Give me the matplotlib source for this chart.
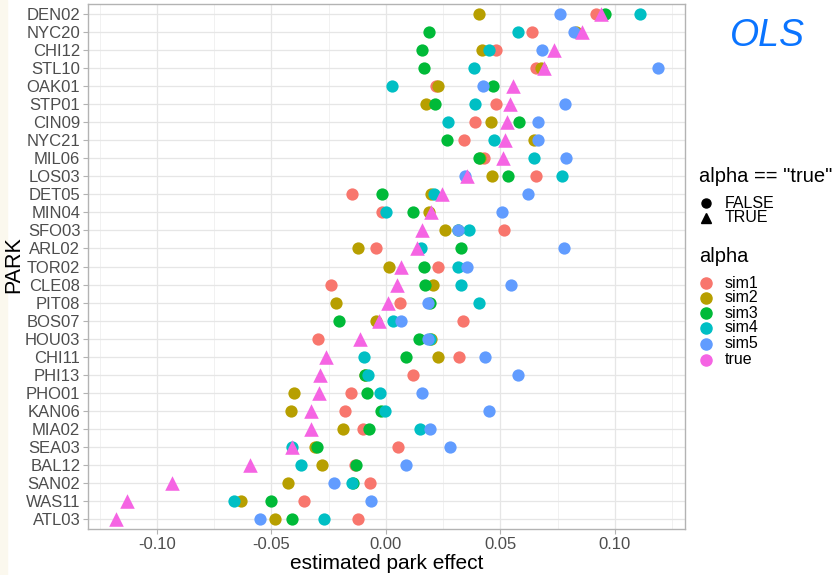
import matplotlib
matplotlib.use("Agg")
import matplotlib.pyplot as plt
from matplotlib.patches import Rectangle

plt.rcParams['font.family'] = ['Liberation Sans', 'DejaVu Sans']

# parks, top to bottom (sorted by true effect)
parks = ["DEN02", "NYC20", "CHI12", "STL10", "OAK01", "STP01", "CIN09", "NYC21",
         "MIL06", "LOS03", "DET05", "MIN04", "SFO03", "ARL02", "TOR02", "CLE08",
         "PIT08", "BOS07", "HOU03", "CHI11", "PHI13", "PHO01", "KAN06", "MIA02",
         "SEA03", "BAL12", "SAN02", "WAS11", "ATL03"]

sim1 = [0.0916, 0.0640, 0.0482, 0.0655, 0.0218, 0.0482, 0.0390, 0.0342,
        0.0427, 0.0655, -0.0150, -0.0015, 0.0517, -0.0044, 0.0226, -0.0242,
        0.0061, 0.0335, -0.0298, 0.0320, 0.0119, -0.0154, -0.0179, -0.0099,
        0.0054, -0.0135, -0.0070, -0.0358, -0.0121]
sim2 = [0.0406, 0.0830, 0.0419, 0.0677, 0.0228, 0.0175, 0.0459, 0.0646,
        0.0410, 0.0463, 0.0195, 0.0188, 0.0256, -0.0121, 0.0013, 0.0207,
        -0.0220, -0.0045, 0.0195, 0.0226, -0.0090, -0.0403, -0.0415, -0.0186,
        -0.0310, -0.0281, -0.0428, -0.0633, -0.0485]
sim3 = [0.0956, 0.0188, 0.0157, 0.0166, 0.0469, 0.0214, 0.0579, 0.0265,
        0.0406, 0.0533, -0.0015, 0.0119, 0.0316, 0.0328, 0.0167, 0.0170,
        0.0192, -0.0205, 0.0144, 0.0087, -0.0092, -0.0082, -0.0022, -0.0074,
        -0.0300, -0.0131, -0.0143, -0.0504, -0.0412]
sim4 = [0.1110, 0.0578, 0.0451, 0.0386, 0.0028, 0.0389, 0.0269, 0.0472,
        0.0645, 0.0767, 0.0210, 0.0000, 0.0362, 0.0153, 0.0314, 0.0328,
        0.0408, 0.0029, 0.0192, -0.0095, -0.0077, -0.0026, -0.0004, 0.0150,
        -0.0409, -0.0371, -0.0150, -0.0662, -0.0271]
sim5 = [0.0760, 0.0820, 0.0680, 0.1188, 0.0425, 0.0783, 0.0665, 0.0664,
        0.0787, 0.0345, 0.0622, 0.0505, 0.0316, 0.0776, 0.0355, 0.0546,
        0.0185, 0.0064, 0.0185, 0.0434, 0.0576, 0.0159, 0.0448, 0.0192,
        0.0281, 0.0087, -0.0227, -0.0066, -0.0550]
true = [0.0940, 0.0855, 0.0735, 0.0690, 0.0553, 0.0541, 0.0530, 0.0520,
        0.0512, 0.0355, 0.0247, 0.0197, 0.0159, 0.0134, 0.0068, 0.0049,
        0.0007, -0.0029, -0.0114, -0.0262, -0.0288, -0.0291, -0.0328, -0.0329,
        -0.0409, -0.0593, -0.0934, -0.1132, -0.1180]

series = [("sim1", sim1, "#F8766D"), ("sim2", sim2, "#B79F00"),
          ("sim3", sim3, "#00BA38"), ("sim4", sim4, "#00BFC4"),
          ("sim5", sim5, "#619CFF"), ("true", true, "#F564E3")]

W, H = 838, 575
fig = plt.figure(figsize=(W / 100, H / 100), dpi=100)
fig.patch.set_facecolor("white")

# cream strip at left edge of the screenshot
fig.add_artist(Rectangle((0, 0), 7 / W, 1, transform=fig.transFigure,
                         color="#FBF8EE", zorder=-1))

L, R, T, B = 88, 685, 4, 529
ax = fig.add_axes([L / W, 1 - B / H, (R - L) / W, (B - T) / H])

n = len(parks)
ypos = list(range(n, 0, -1))

for name, vals, col in series:
    if name == "true":
        ax.scatter(vals, ypos, marker="^", s=110, color=col, linewidths=0, zorder=3)
    else:
        ax.scatter(vals, ypos, marker="o", s=78, color=col, linewidths=0, zorder=3)

ax.set_xlim(-0.1301, 0.1306)
ax.set_ylim(0.45, n + 0.55)
ax.set_yticks(ypos)
ax.set_yticklabels(parks)
ax.set_xticks([-0.10, -0.05, 0.0, 0.05, 0.10])
ax.set_xticklabels(["-0.10", "-0.05", "0.00", "0.05", "0.10"])
ax.set_xticks([-0.125, -0.075, -0.025, 0.025, 0.075, 0.125], minor=True)
ax.tick_params(axis="both", which="major", labelsize=12, labelcolor="#4D4D4D",
               color="#B3B3B3", length=3.5, width=0.8, pad=2)
ax.tick_params(axis="x", which="minor", length=0)
ax.grid(True, which="major", color="#E6E6E6", linewidth=0.9, zorder=0)
ax.grid(True, which="minor", axis="x", color="#EFEFEF", linewidth=0.6, zorder=0)
ax.set_axisbelow(True)
for sp in ax.spines.values():
    sp.set_color("#B3B3B3")
    sp.set_linewidth(1.0)

ax.set_xlabel("estimated park effect", fontsize=15, labelpad=2)
ax.set_ylabel("PARK", fontsize=15.5)
ax.yaxis.set_label_coords(-0.106, 0.503)

# overlay axes in pixel coordinates for legend and annotation
lax = fig.add_axes([0, 0, 1, 1])
lax.set_xlim(0, W)
lax.set_ylim(H, 0)
lax.axis("off")
lax.patch.set_alpha(0)

lax.text(699, 177, 'alpha == "true"', fontsize=14.5, va="center", ha="left")
lax.plot([706], [203], marker="o", ms=6.5, color="black", ls="none")
lax.plot([706], [218], marker="^", ms=7.5, color="black", ls="none")
lax.text(725, 203, "FALSE", fontsize=11.5, va="center")
lax.text(725, 218, "TRUE", fontsize=11.5, va="center")

lax.text(699, 257, "alpha", fontsize=14.5, va="center", ha="left")
legend_y = [283, 298, 313, 328, 344, 360]
for (name, vals, col), yy in zip(series, legend_y):
    lax.plot([706], [yy], marker="o", ms=8, color=col, ls="none")
    lax.text(725, yy, name, fontsize=11.5, va="center")

# handwritten note
lax.text(767, 36, "OLS", fontsize=27, color="#0A74FF", style="italic",
         va="center", ha="center", fontweight="light")

fig.savefig("out.png", dpi=100)
